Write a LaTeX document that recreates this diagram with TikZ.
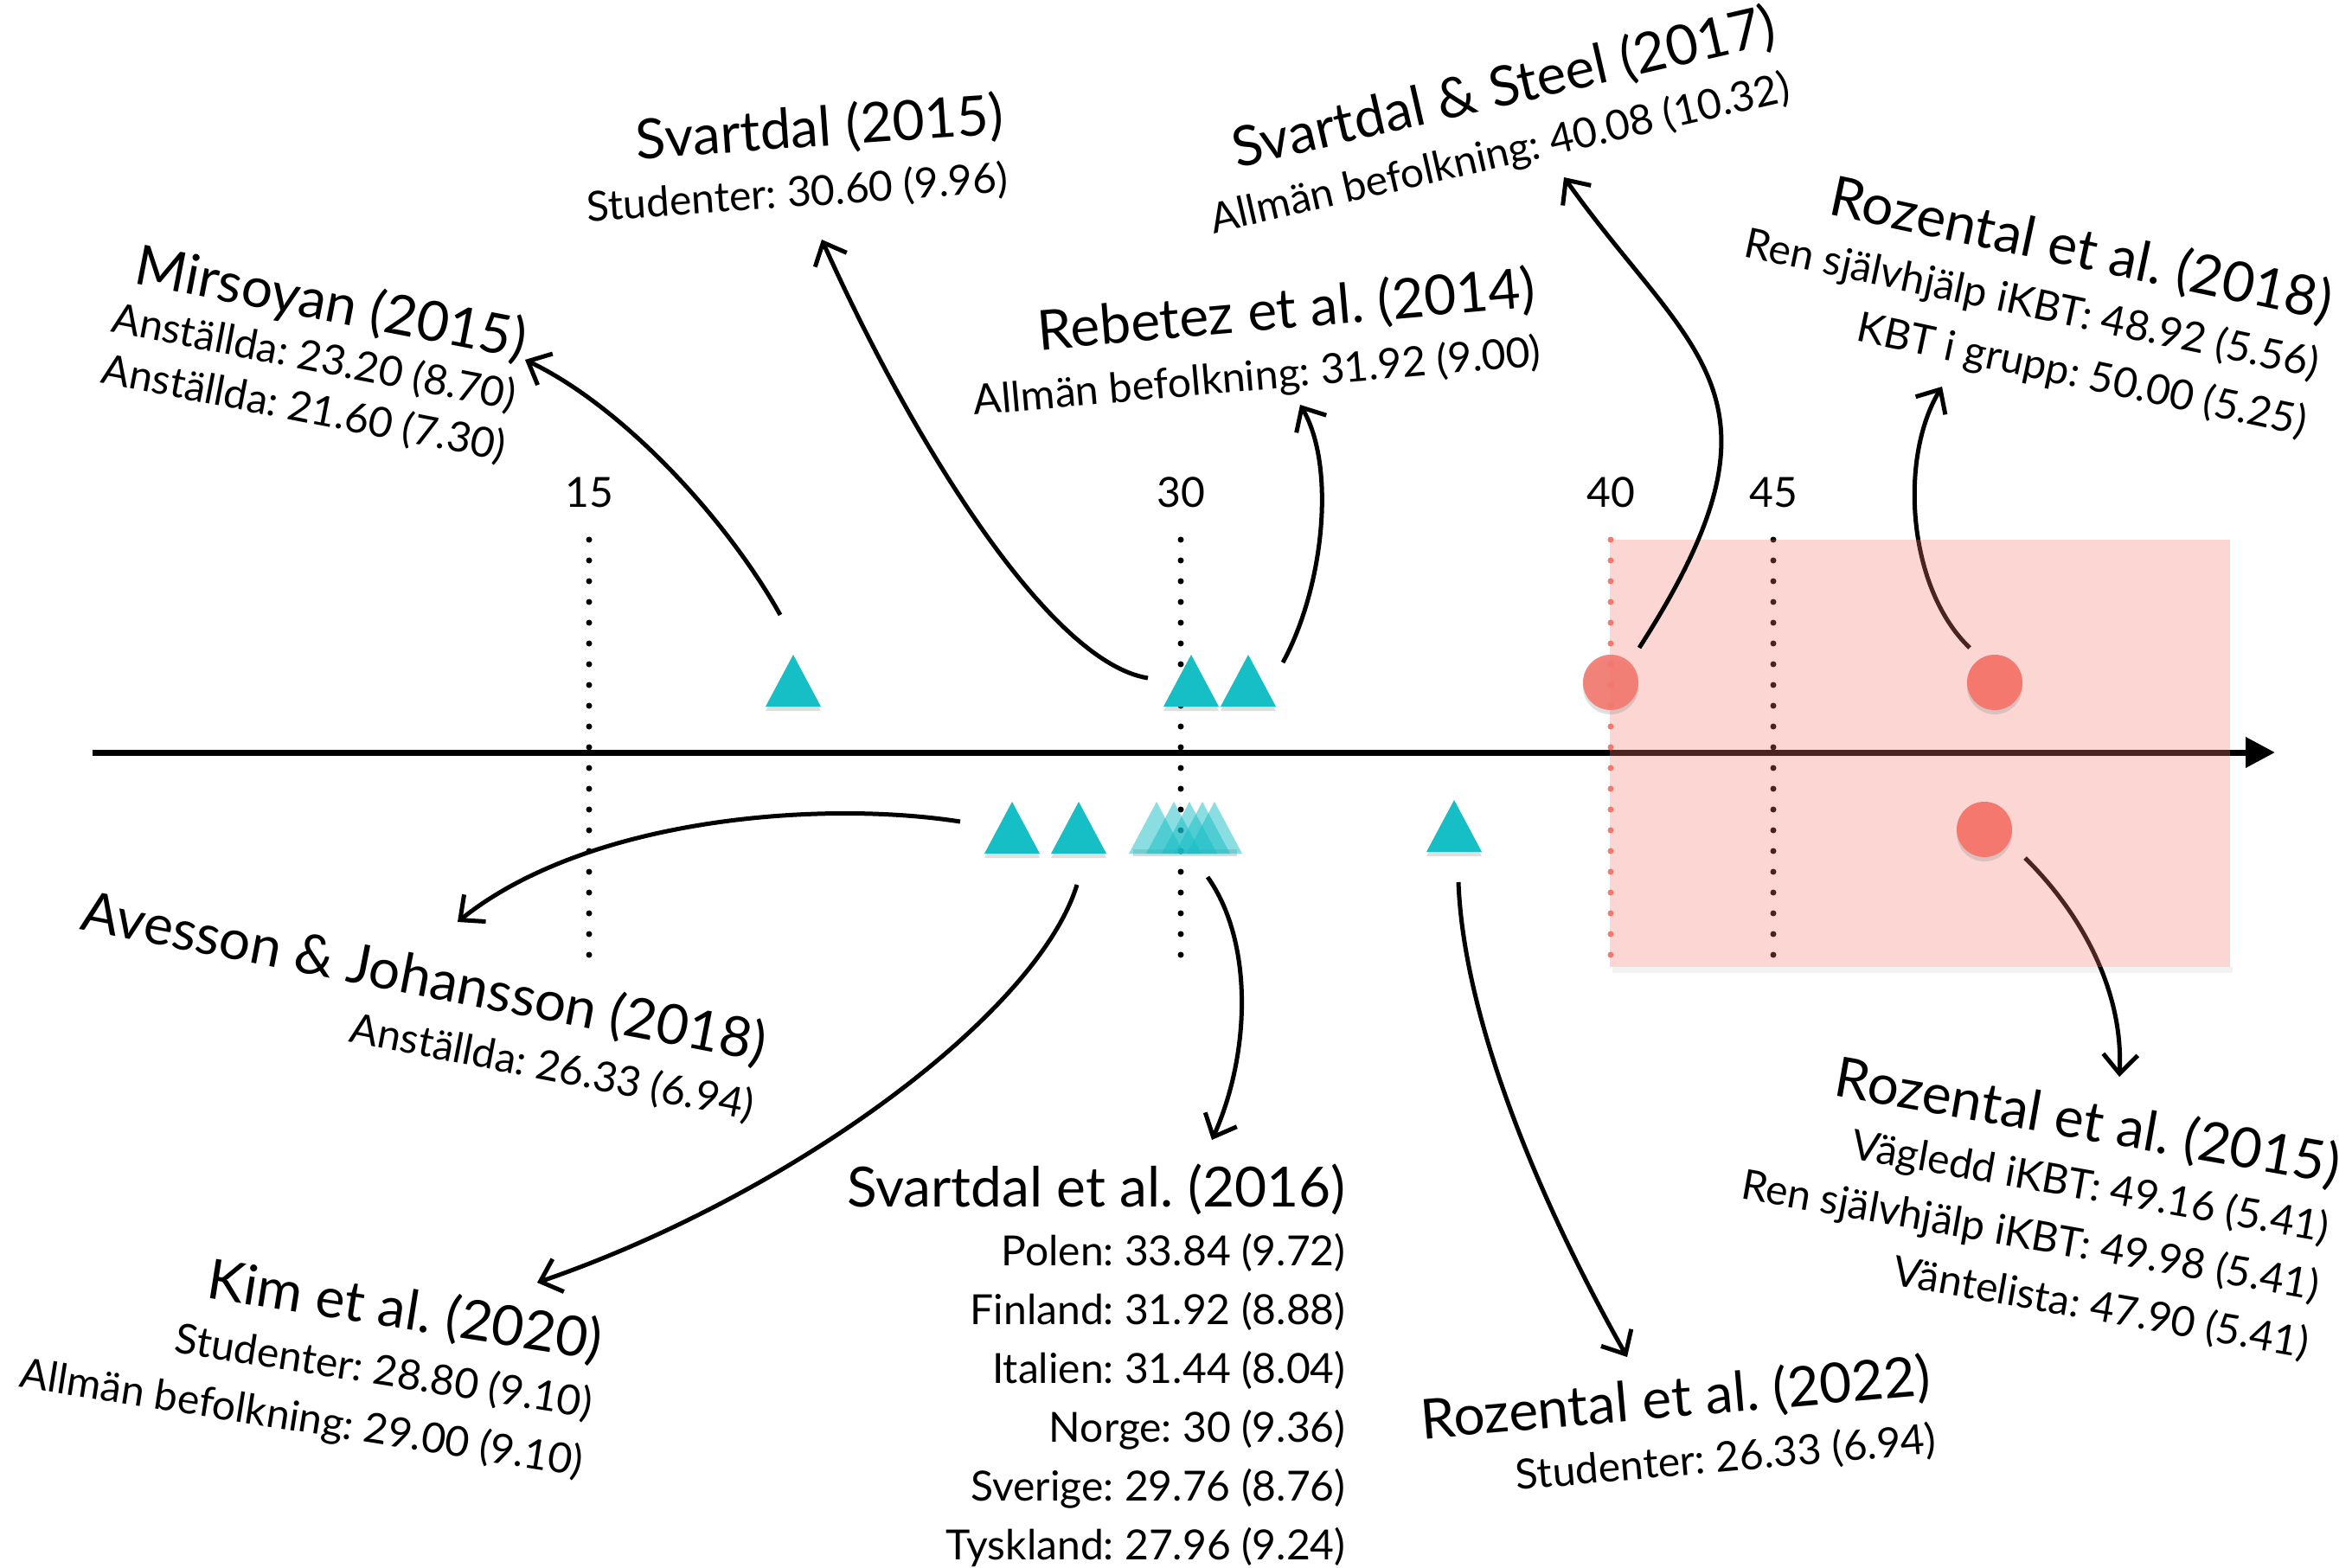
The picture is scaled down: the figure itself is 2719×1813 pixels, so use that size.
\documentclass[tikz,border=0pt]{standalone}
\usepackage{fontspec}
\setmainfont{Lato}
\usetikzlibrary{arrows.meta,shadows}
\definecolor{mteal}{RGB}{22,190,197}
\definecolor{msalmon}{RGB}{244,120,110}
\newcommand\mytitle[1]{{\fontsize{32}{34}\selectfont #1}}
\frenchspacing
\begin{document}
\begin{tikzpicture}[x=0.5pt,y=-0.5pt,
  lbl/.style={inner sep=0pt, align=right, font=\fontsize{24}{34}\selectfont\frenchspacing},
  ticklbl/.style={inner sep=0pt, font=\fontsize{24}{28}\selectfont},
  conn/.style={line width=2.5pt, -{Straight Barb[length=11pt,width=20pt]}},
  dotline/.style={line width=3.5pt, line cap=round, dash pattern=on 0pt off 12pt},
  mshadow/.style={drop shadow={opacity=0.25, shadow xshift=0pt, shadow yshift=-2.5pt}},
  tri/.style={fill=mteal, mshadow},
  ftri/.style={fill=mteal, fill opacity=0.5},
  dotm/.style={fill=msalmon, mshadow},
]
\useasboundingbox (0,0) rectangle (2719,1813);
\fill[white] (0,0) rectangle (2719,1813);

% axis
\coordinate (axstart) at (107,870);
\coordinate (axend) at (2630,870);
\draw[line width=3.5pt, -{Triangle[length=17pt,width=17pt]}] (axstart) -- (axend);

% tick lines and labels
\draw[dotline] (681,624) -- (681,1110);
\draw[dotline] (1365,624) -- (1365,1110);
\draw[dotline] (2050,624) -- (2050,1110);
\node[ticklbl] (t15) at (681,569) {15};
\node[ticklbl] (t30) at (1365,569) {30};
\node[ticklbl] (t40) at (1862,569) {40};
\node[ticklbl] (t45) at (2050,569) {45};

% triangles above axis
\fill[tri] (917,757) -- (949,817) -- (885,817) -- cycle;
\fill[tri] (1377,757) -- (1409,817) -- (1345,817) -- cycle;
\fill[tri] (1443,757) -- (1475,817) -- (1411,817) -- cycle;
% triangles below axis
\fill[tri] (1170,927) -- (1202,987) -- (1138,987) -- cycle;
\fill[tri] (1247,927) -- (1279,987) -- (1215,987) -- cycle;
\fill[black, opacity=0.15] (1310,982) rectangle (1430,990);
\foreach \xx in {1337,1357,1375,1390,1404}
  \fill[ftri] (\xx,927) -- (\xx+32,987) -- (\xx-32,987) -- cycle;
\fill[tri] (1681,925) -- (1713,985) -- (1649,985) -- cycle;

% connector end points
\coordinate (mirS) at (902,711);   \coordinate (mirE) at (607,416);
\coordinate (sv15S) at (1327,784); \coordinate (sv15E) at (950,277);
\coordinate (rebS) at (1483,766);  \coordinate (rebE) at (1503,468);
\coordinate (stS) at (1895,749);   \coordinate (stE) at (1808,205);
\coordinate (r18S) at (2277,749);  \coordinate (r18E) at (2245,447);
\coordinate (aveS) at (1110,950);  \coordinate (aveE) at (529,1066);
\coordinate (kimS) at (1245,1023); \coordinate (kimE) at (621,1483);
\coordinate (sv16S) at (1396,1014);\coordinate (sv16E) at (1401,1318);
\coordinate (r22S) at (1686,1020); \coordinate (r22E) at (1881,1569);
\coordinate (r15S) at (2341,992);  \coordinate (r15E) at (2450,1245);

\draw[conn] (mirS) .. controls (840,600) and (720,470) .. (mirE);
\draw[conn] (sv15S) .. controls (1210,765) and (1050,500) .. (sv15E);
\draw[conn] (rebS) .. controls (1530,680) and (1545,540) .. (rebE);
\draw[conn] (r18S) .. controls (2205,680) and (2195,530) .. (r18E);
\draw[conn] (aveS) .. controls (950,925) and (680,945) .. (aveE);
\draw[conn] (kimS) .. controls (1200,1170) and (920,1380) .. (kimE);
\draw[conn] (sv16S) .. controls (1450,1090) and (1445,1220) .. (sv16E);
\draw[conn] (r22S) .. controls (1692,1180) and (1780,1390) .. (r22E);
\draw[conn] (r15S) .. controls (2410,1060) and (2455,1150) .. (r15E);

% pink region
\fill[black, opacity=0.05] (1864,1118) rectangle (2581,1125);
\fill[msalmon, opacity=0.3] (1861,624) rectangle (2578,1118);
\draw[dotline, msalmon] (1862,624) -- (1862,1110);
\draw[conn] (stS) .. controls (2084,455) and (1956,413) .. (stE);

% circles
\fill[dotm, fill opacity=0.9] (1862,789) circle (32);
\fill[dotm] (2306,789) circle (32);
\fill[dotm] (2294,959) circle (32);

% labels
\node[lbl, rotate=-11, font=\fontsize{24}{30}\selectfont] (mirsoyan) at (364,408)
  {\mytitle{Mirsoyan (2015)}\\Anställda: 23.20 (8.70)\\Anställda: 21.60 (7.30)};
\node[lbl, rotate=4] (svartdal15) at (919,184)
  {\mytitle{Svartdal (2015)}\\Studenter: 30.60 (9.96)};
\node[lbl, rotate=13] (steel) at (1725,140)
  {\mytitle{Svartdal \& Steel (2017)}\\Allmän befolkning: 40.08 (10.32)};
\node[lbl, rotate=5] (rebetez) at (1450,397)
  {\mytitle{Rebetez et al. (2014)}\\Allmän befolkning: 31.92 (9.00)};
\node[lbl, rotate=-12] (roz18) at (2350,347)
  {\mytitle{Rozental et al. (2018)}\\Ren självhjälp iKBT: 48.92 (5.56)\\KBT i grupp: 50.00 (5.25)};
\node[lbl, rotate=-11] (avesson) at (484,1164)
  {\mytitle{Avesson \& Johansson (2018)}\\Anställda: 26.33 (6.94)};
\node[lbl, rotate=-9] (kim) at (360,1568)
  {\mytitle{Kim et al. (2020)}\\Studenter: 28.80 (9.10)\\Allmän befolkning: 29.00 (9.10)};
\node[lbl, anchor=north east] (svartdal16) at (1556,1345)
  {\mytitle{Svartdal et al. (2016)}\\Polen: 33.84 (9.72)\\Finland: 31.92 (8.88)\\Italien: 31.44 (8.04)\\Norge: 30 (9.36)\\Sverige: 29.76 (8.76)\\Tyskland: 27.96 (9.24)};
\node[lbl, rotate=5] (roz22) at (1940,1651)
  {\mytitle{Rozental et al. (2022)}\\Studenter: 26.33 (6.94)};
\node[lbl, rotate=-10] (roz15) at (2354,1390)
  {\mytitle{Rozental et al. (2015)}\\Vägledd iKBT: 49.16 (5.41)\\Ren självhjälp iKBT: 49.98 (5.41)\\Väntelista: 47.90 (5.41)};
\end{tikzpicture}
\end{document}
